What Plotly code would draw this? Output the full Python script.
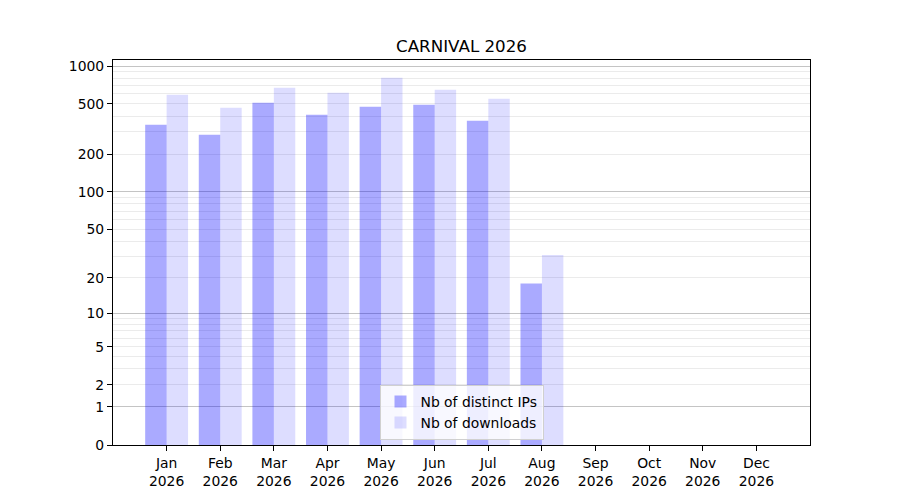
import numpy as np
import plotly.graph_objects as go

months = ["Jan", "Feb", "Mar", "Apr", "May", "Jun", "Jul", "Aug", "Sep", "Oct", "Nov", "Dec"]
year = "2026"
distinct_ips = [342, 285, 512, 411, 476, 494, 368, 18, 0, 0, 0, 0]
downloads = [593, 467, 673, 614, 808, 649, 551, 31, 0, 0, 0, 0]

y_labels = [0, 1, 2, 5, 10, 20, 50, 100, 200, 500, 1000]
major_grid = [1, 10, 100, 1000]
minor_grid = [2, 3, 4, 5, 6, 7, 8, 9, 20, 30, 40, 50, 60, 70, 80, 90,
              200, 300, 400, 500, 600, 700, 800, 900]


# y axis is log10(1 + n), like the matplotlib function scale in the original
def tr(v):
    return np.log10(1 + np.asarray(v, dtype=float))


x = list(range(len(months)))
xlabels = [m + "<br>" + year for m in months]
yrange = [0, 3.048]
font = "DejaVu Sans"

fig = go.Figure()
fig.add_trace(go.Bar(x=x, y=tr(distinct_ips), name="Nb of distinct IPs",
                     width=0.4, offset=-0.4,
                     marker=dict(color="rgba(0,0,255,0.333)", line_width=0)))
fig.add_trace(go.Bar(x=x, y=tr(downloads), name="Nb of downloads",
                     width=0.4, offset=0,
                     marker=dict(color="rgba(0,0,255,0.133)", line_width=0)))
# empty trace so the overlay axis carrying the darker grid gets drawn
fig.add_trace(go.Scatter(x=[], y=[], yaxis="y2", showlegend=False, hoverinfo="skip"))

# the page body has an 8px margin, so the margins are shifted to compensate
fig.update_layout(
    width=900, height=500,
    margin=dict(l=105, r=98, t=52, b=63),
    paper_bgcolor="white", plot_bgcolor="white",
    font=dict(family=font, size=13.9, color="black"),
    barmode="overlay",
    title=dict(text="CARNIVAL 2026", x=(461.5 - 8) / 900, xanchor="center",
               y=1 - 38 / 500, yref="container", yanchor="middle",
               font=dict(size=16.7)),
    xaxis=dict(range=[-1, 12], tickmode="array", tickvals=x, ticktext=xlabels,
               showgrid=False, zeroline=False, showline=True, linecolor="black",
               linewidth=1.1, mirror=True, ticks="outside", ticklen=5,
               tickcolor="black", tickwidth=1.1),
    yaxis=dict(range=yrange, tickmode="array", tickvals=tr(y_labels),
               ticktext=[str(v) for v in y_labels],
               showgrid=False, zeroline=False, showline=True, linecolor="black",
               linewidth=1.1, mirror=True, ticks="outside", ticklen=5,
               tickcolor="black", tickwidth=1.1,
               minor=dict(tickmode="array", tickvals=tr(minor_grid), showgrid=True,
                          gridcolor="#ebebeb", gridwidth=1, ticks="")),
    yaxis2=dict(range=yrange, overlaying="y", tickmode="array",
                tickvals=tr(major_grid), showticklabels=False, ticks="",
                showgrid=True, gridcolor="#c4c4c4", gridwidth=1, zeroline=False,
                showline=False),
    legend=dict(x=0.5, xanchor="center", y=0.013, yanchor="bottom",
                bgcolor="rgba(255,255,255,0.8)", bordercolor="#d0d0d0",
                borderwidth=1, font=dict(size=13.9), tracegroupgap=0),
)

fig.write_html("out.html")
